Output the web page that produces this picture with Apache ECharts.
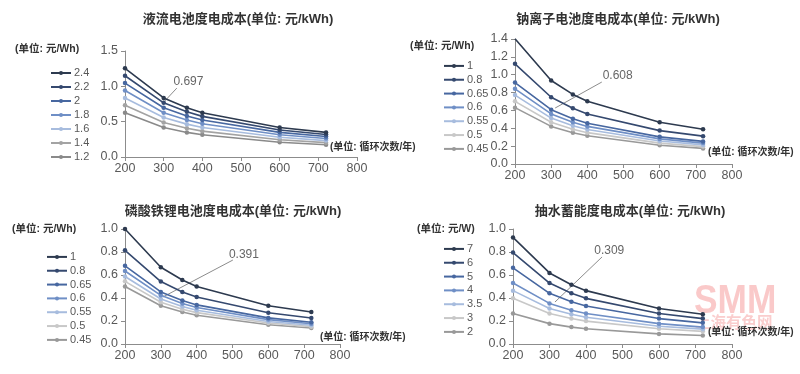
<!DOCTYPE html>
<html><head><meta charset="utf-8">
<script src="https://cdn.jsdelivr.net/npm/echarts@6/dist/echarts.min.js"></script>
<style>html,body{margin:0;padding:0;background:#fff}#c{width:800px;height:374px}</style>
</head><body><div id="c"></div>
<script>
// x categories: cycles per year
const cycles = [200, 300, 360, 400, 600, 720];

// Panel 1: 液流电池 (元/Wh)
const flowNames = ['2.4', '2.2', '2', '1.8', '1.6', '1.4', '1.2'];
const flowValues = [
  [1.255, 0.836, 0.697, 0.627, 0.418, 0.348],
  [1.150, 0.767, 0.639, 0.575, 0.383, 0.319],
  [1.046, 0.697, 0.581, 0.523, 0.349, 0.290],
  [0.941, 0.627, 0.523, 0.470, 0.314, 0.261],
  [0.836, 0.558, 0.465, 0.418, 0.279, 0.232],
  [0.732, 0.488, 0.407, 0.366, 0.244, 0.203],
  [0.627, 0.418, 0.348, 0.314, 0.209, 0.174]
];

// Panel 2: 钠离子电池 (元/Wh)
const sodiumNames = ['1', '0.8', '0.65', '0.6', '0.55', '0.5', '0.45'];
const sodiumValues = [
  [1.403, 0.935, 0.779, 0.702, 0.468, 0.390],
  [1.122, 0.748, 0.624, 0.561, 0.374, 0.312],
  [0.912, 0.608, 0.507, 0.456, 0.304, 0.253],
  [0.842, 0.561, 0.468, 0.421, 0.281, 0.234],
  [0.772, 0.514, 0.429, 0.386, 0.257, 0.214],
  [0.702, 0.468, 0.390, 0.351, 0.234, 0.195],
  [0.631, 0.421, 0.351, 0.316, 0.210, 0.175]
];

// Panel 3: 磷酸铁锂电池 (元/Wh)
const lfpNames = ['1', '0.8', '0.65', '0.6', '0.55', '0.5', '0.45'];
const lfpValues = [
  [1.000, 0.667, 0.556, 0.500, 0.333, 0.278],
  [0.815, 0.543, 0.453, 0.408, 0.272, 0.226],
  [0.680, 0.453, 0.378, 0.340, 0.227, 0.189],
  [0.635, 0.423, 0.353, 0.318, 0.212, 0.176],
  [0.587, 0.391, 0.326, 0.293, 0.196, 0.163],
  [0.545, 0.363, 0.303, 0.273, 0.182, 0.151],
  [0.500, 0.333, 0.278, 0.250, 0.167, 0.139]
];

// Panel 4: 抽水蓄能 (元/W)
const hydroNames = ['7', '6', '5', '4', '3.5', '3', '2'];
const hydroValues = [
  [0.927, 0.618, 0.515, 0.464, 0.309, 0.258],
  [0.795, 0.530, 0.441, 0.397, 0.265, 0.221],
  [0.662, 0.441, 0.368, 0.331, 0.221, 0.184],
  [0.530, 0.353, 0.294, 0.265, 0.177, 0.147],
  [0.464, 0.309, 0.258, 0.232, 0.155, 0.129],
  [0.397, 0.265, 0.221, 0.199, 0.132, 0.110],
  [0.265, 0.177, 0.147, 0.132, 0.088, 0.074]
];

// annotations: [label, start point, end point]
const annotations = [
  { label: '0.697', from: [300, 0.775], to: [334, 0.975] },
  { label: '0.608', from: [311, 0.627], to: [440, 0.918] },
  { label: '0.391', from: [306, 0.409], to: [501, 0.730] },
  { label: '0.309', from: [315, 0.365], to: [444, 0.757] }
];

const titles = ['液流电池度电成本(单位: 元/kWh)', '钠离子电池度电成本(单位: 元/kWh)',
                '磷酸铁锂电池度电成本(单位: 元/kWh)', '抽水蓄能度电成本(单位: 元/kWh)'];
const unitLabels = ['(单位: 元/Wh)', '(单位: 元/Wh)', '(单位: 元/Wh)', '(单位: 元/W)'];
const xUnit = '(单位: 循环次数/年)';

const FONT = '"Liberation Sans", Arial, "Noto Sans CJK SC", sans-serif';
const paletteA = ['#2d3a4f', '#35496f', '#4767a0', '#6f8fc6', '#a7bcde', '#a3a3a3', '#8a8a8a'];
const paletteB = ['#2d3a4f', '#35496f', '#4767a0', '#6f8fc6', '#a7bcde', '#c8c8c8', '#999999'];

const panels = [
  { names: flowNames, values: flowValues, pal: paletteA, grid: { left: 125, right: 443, top: 51, bottom: 217 }, yMax: 1.5, yInt: 0.5,
    title: [233, 8], unit: [15, 44], legend: [45, 61, 14], xu: [330, 142], ad: [17, 9] },
  { names: sodiumNames, values: sodiumValues, pal: paletteB, grid: { left: 515, right: 68, top: 39, bottom: 210 }, yMax: 1.4, yInt: 0.2,
    title: [613, 8], unit: [410, 41], legend: [438, 54, 13.83], xu: [708, 147], ad: [1, 14] },
  { names: lfpNames, values: lfpValues, pal: paletteB, grid: { left: 125, right: 460, top: 229, bottom: 30 }, yMax: 1.0, yInt: 0.2,
    title: [228, 200], unit: [12, 224], legend: [41, 245, 13.83], xu: [320, 332], ad: [-4.5, 11] },
  { names: hydroNames, values: hydroValues, pal: paletteB, grid: { left: 513, right: 68, top: 229, bottom: 30 }, yMax: 1.0, yInt: 0.2,
    title: [625, 200], unit: [417, 224], legend: [438, 237, 13.83], xu: [708, 327], ad: [10, 9] }
];

const grid = [], xAxis = [], yAxis = [], series = [], legend = [], title = [], graphic = [];
panels.forEach((p, i) => {
  grid.push(p.grid);
  xAxis.push({
    type: 'value', gridIndex: i, min: 200, max: 800, interval: 100,
    axisLine: { show: true, lineStyle: { color: '#8c8c8c', width: 1 } },
    axisTick: { show: true, length: 4, lineStyle: { color: '#8c8c8c' } },
    axisLabel: { color: '#595959', fontSize: 12.5, fontFamily: FONT, margin: 5 },
    splitLine: { show: false }
  });
  yAxis.push({
    type: 'value', gridIndex: i, min: 0, max: p.yMax, interval: p.yInt,
    axisLine: { show: true, lineStyle: { color: '#8c8c8c', width: 1 } },
    axisTick: { show: true, length: 4, lineStyle: { color: '#8c8c8c' } },
    axisLabel: { color: '#595959', fontSize: 12.5, fontFamily: FONT, margin: 7, formatter: v => v.toFixed(1) },
    splitLine: { show: false }
  });
  const legendData = [];
  p.names.forEach((n, k) => {
    const name = 'p' + i + '|' + n;
    legendData.push(name);
    const s = {
      type: 'line', name, xAxisIndex: i, yAxisIndex: i,
      data: cycles.map((c, j) => [c, p.values[k][j]]),
      symbol: 'circle', symbolSize: 4.5,
      lineStyle: { color: p.pal[k], width: 1.6 },
      itemStyle: { color: p.pal[k] },
      z: 10 - k
    };
    if (k === 0) {
      const a = annotations[i];
      s.markLine = {
        silent: true, symbol: ['none', 'none'], animation: false,
        lineStyle: { color: '#8c8c8c', width: 1, type: 'solid' },
        label: { show: true, position: 'end', formatter: a.label, color: '#666', fontSize: 12, fontFamily: FONT, distance: p.ad },
        data: [[{ coord: a.from }, { coord: a.to }]]
      };
    }
    series.push(s);
  });
  legend.push({
    data: legendData, orient: 'vertical', left: p.legend[0], top: p.legend[1],
    itemWidth: 20, itemHeight: 5, itemGap: 0, selectedMode: false,
    formatter: n => n.split('|')[1],
    textStyle: { color: '#595959', fontSize: 11, fontFamily: FONT, lineHeight: p.legend[2], padding: [0, 0, 0, -2] }
  });
  title.push({
    text: titles[i], left: p.title[0], top: p.title[1], textAlign: 'center',
    textStyle: { color: '#333', fontSize: 13, fontWeight: 'bold', fontFamily: FONT }
  });
  graphic.push({
    type: 'text', left: p.unit[0], top: p.unit[1],
    style: { text: unitLabels[i], fill: '#333', font: 'bold 10.5px ' + FONT }
  });
  graphic.push({
    type: 'text', left: p.xu[0], top: p.xu[1],
    style: { text: xUnit, fill: '#333', font: 'bold 10px ' + FONT }
  });
});

// watermark
graphic.push({ type: 'text', x: 694, y: 281, scaleX: 0.86, z: -1,
  style: { text: 'SMM', fill: 'rgba(240,100,100,0.35)', font: 'bold 41px ' + FONT } });
graphic.push({ type: 'text', left: 695, top: 316, z: -1,
  style: { text: '上海有色网', fill: 'rgba(240,100,100,0.32)', font: 'bold 15.5px ' + FONT } });

const chart = echarts.init(document.getElementById('c'), null, { renderer: 'canvas' });
chart.setOption({ animation: false, backgroundColor: '#fff', grid, xAxis, yAxis, series, legend, title, graphic });
</script></body></html>
